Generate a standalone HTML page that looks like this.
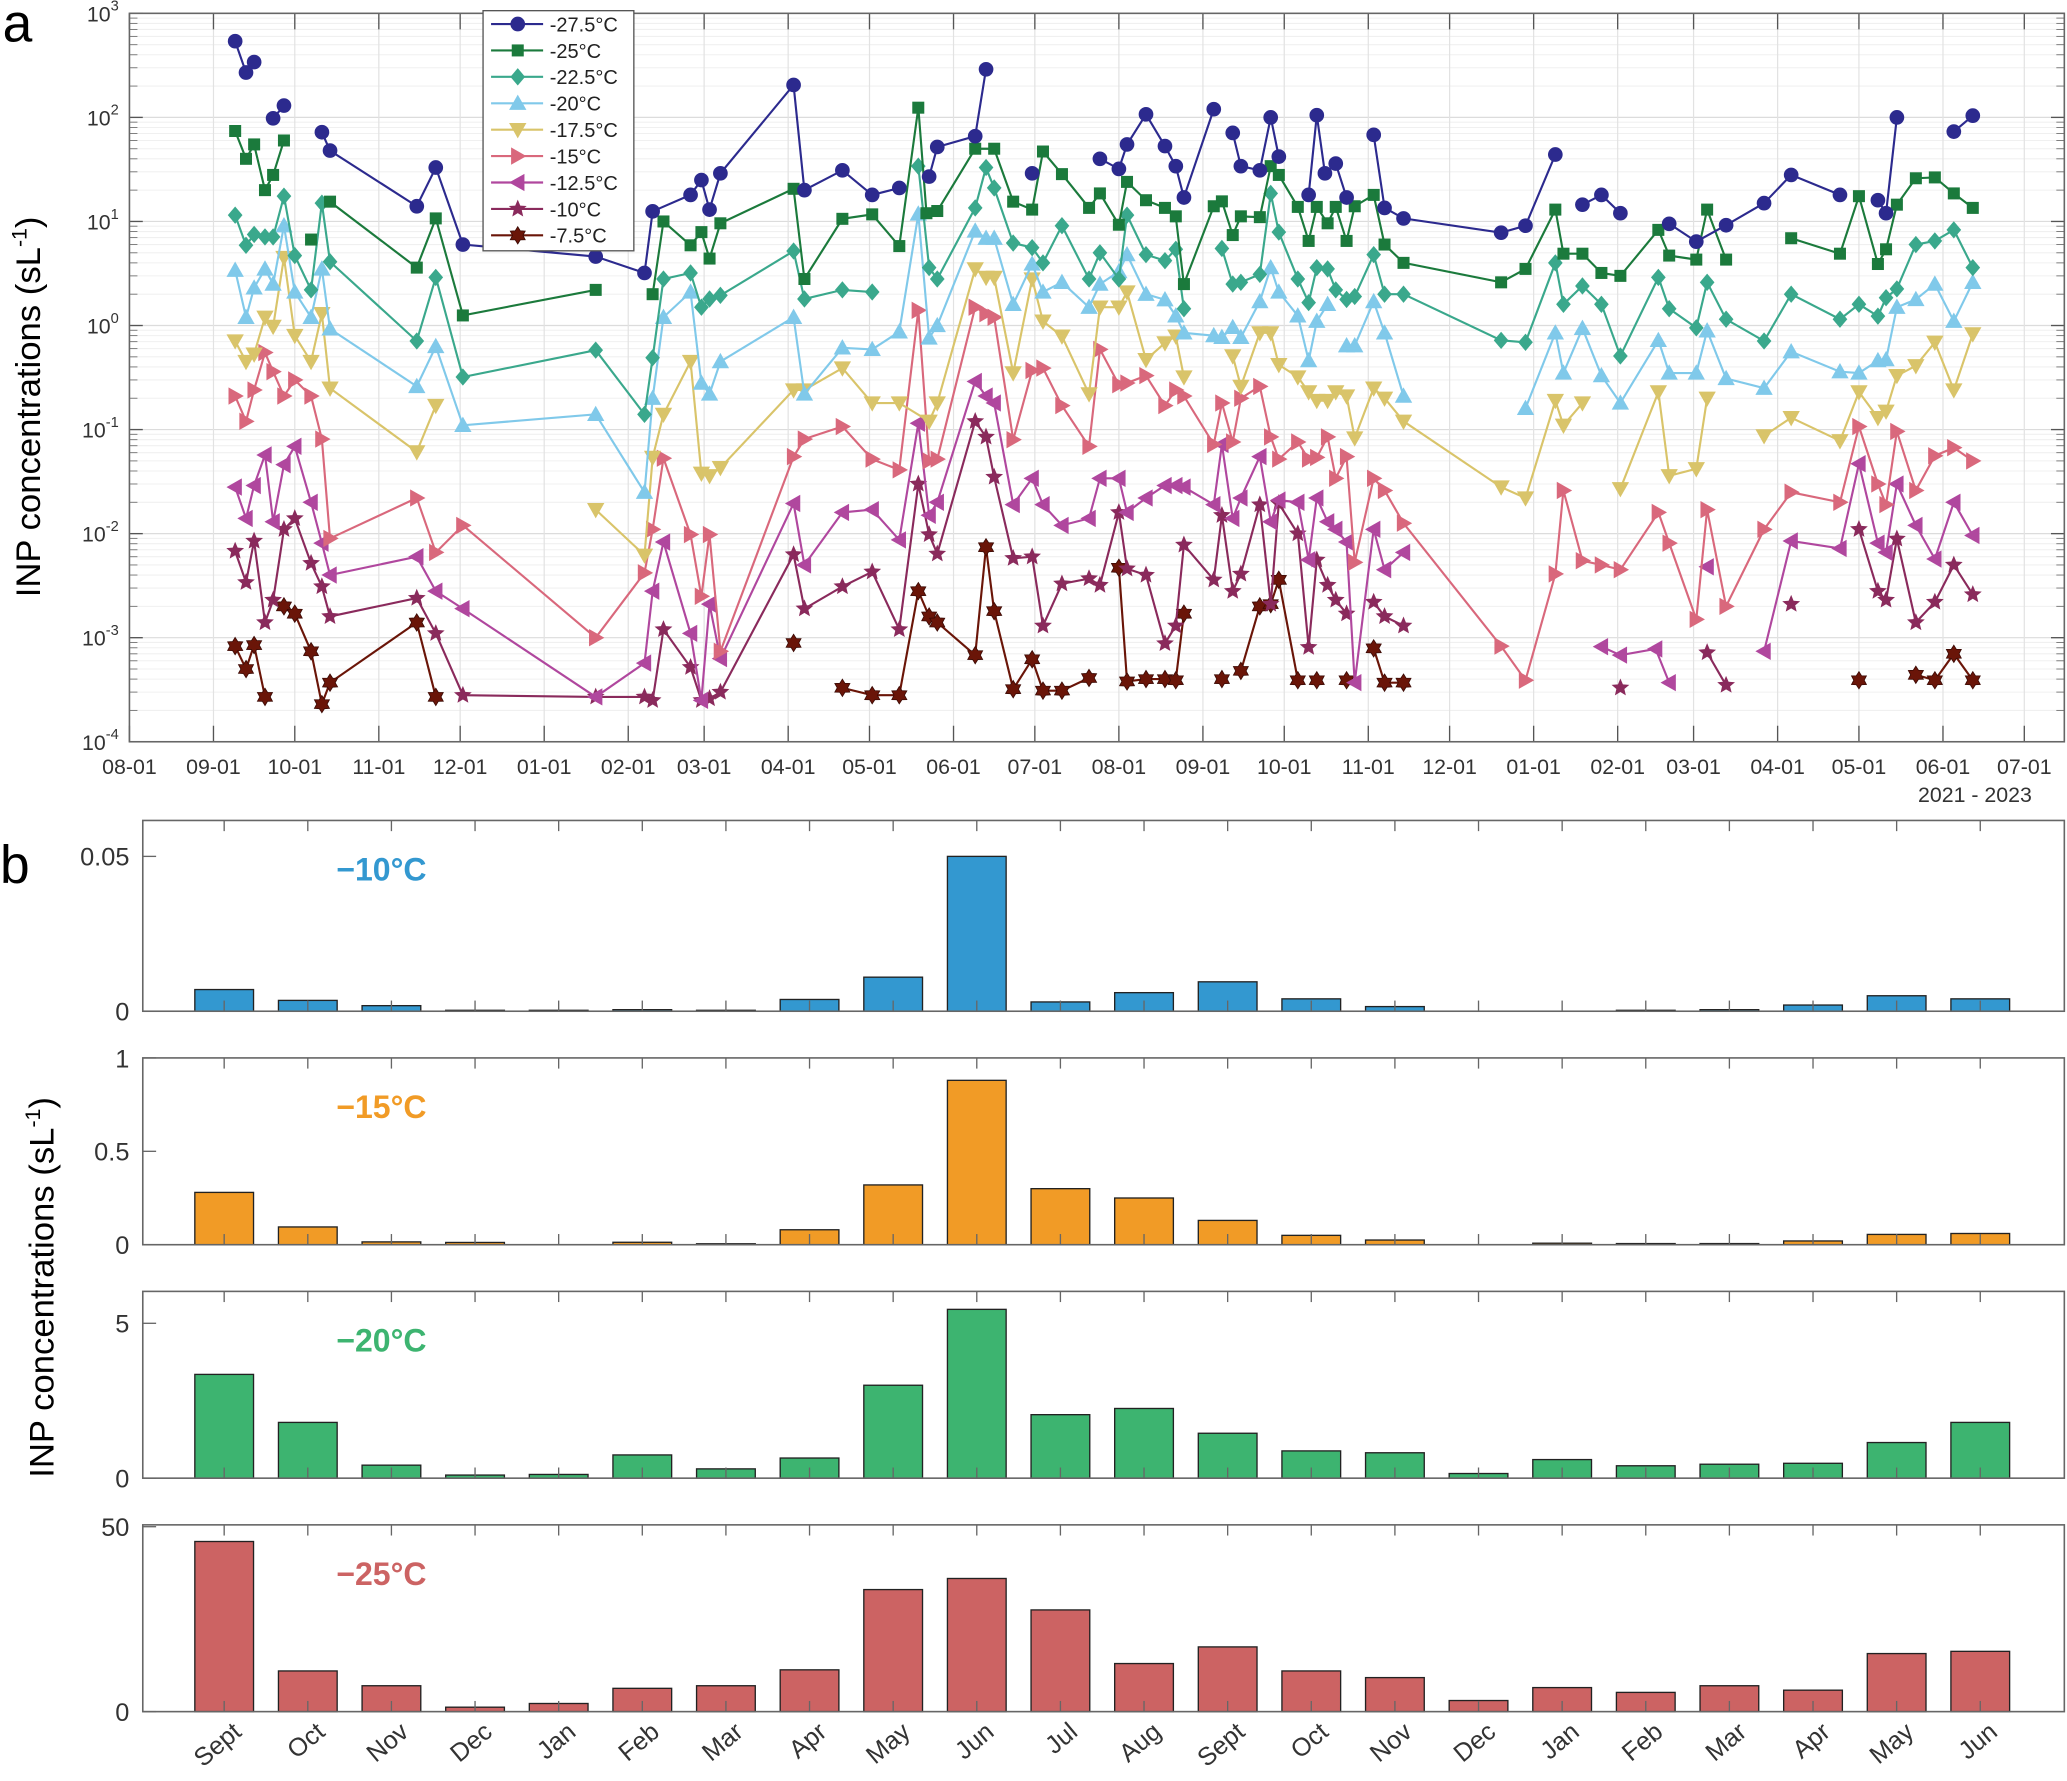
<!DOCTYPE html>
<html><head><meta charset="utf-8">
<style>
html,body{margin:0;padding:0;background:#fff;}
svg{display:block;font-family:"Liberation Sans",Arial,sans-serif;}
</style></head>
<body>
<svg id="fig" xmlns="http://www.w3.org/2000/svg" width="2067" height="1781" viewBox="0 0 1549 1335" preserveAspectRatio="none">
<rect x="0" y="0" width="1549" height="1335" fill="#fff"/>
<text x="2" y="31" font-size="40" fill="#000">a</text>
<text x="0" y="662" font-size="40" fill="#000">b</text>
<g id="pa"></g>
<g id="pb"></g>
</svg>
<script>
// ===== Panel a data: [day since 2021-08-01, INP concentration sL-1]; null = gap =====
const xTickLabels = ["08-01","09-01","10-01","11-01","12-01","01-01","02-01","03-01","04-01","05-01","06-01","07-01","08-01","09-01","10-01","11-01","12-01","01-01","02-01","03-01","04-01","05-01","06-01","07-01"];
const xTickDays = [0,31,61,92,122,153,184,212,243,273,304,334,365,396,426,457,487,518,549,577,608,638,669,699];
const yTickExps = [3,2,1,0,-1,-2,-3,-4];
const seriesNames = ["-27.5°C","-25°C","-22.5°C","-20°C","-17.5°C","-15°C","-12.5°C","-10°C","-7.5°C"];
const s275 = [[39,540],[43,270],[46,340],null,[53,98],[57,130],null,[71,72],[74,48],[106,14],[113,33],[123,6.0],[172,4.6],[190,3.2],[193,12.5],[207,18],[211,25],[214,13],[218,29],[245,205],[249,20],[263,31],[274,18],[284,21],null,[295,27],[298,52],[312,66],[316,290],null,[333,29],null,[358,40],[365,32],[368,55],[375,107],[382,53],[386,34],[389,17],[400,120],null,[407,71],[410,34],[417,31],[421,100],[424,42],null,[435,18],[438,105],[441,29],[445,36],[449,17],null,[459,68],[463,13.5],[470,10.7],[506,7.8],[515,9.1],[526,44],null,[536,14.5],[543,18],[550,12],null,[568,9.5],[578,6.4],[589,9.2],[603,15],[613,28],[631,18],null,[645,16],[648,12],[652,100],null,[673,73],[680,104]];
const s250 = [[39,74],[43,40],[46,55],[50,20],[53,28],[57,60],null,[67,6.7],null,[74,15.5],[106,3.6],[113,10.7],[123,1.25],[172,2.2],null,[193,2.0],[197,10],[207,5.9],[211,7.9],[214,4.4],[218,9.6],[245,20.6],[249,2.8],[263,10.6],[274,11.7],[284,5.8],[291,124],[294,12],[298,12.6],[312,50],[319,50],[326,15.5],[333,13],[337,47],[344,28.5],[354,13.5],[358,18.6],[365,9.3],[368,24],[375,16],[382,13.5],[386,11.2],[389,2.5],[400,14],[403,15.6],[407,7.4],[410,11.2],[417,11],[421,34],[424,28],[431,13.8],[435,6.5],[438,13.8],[442,9.6],[445,13.8],[449,6.5],[452,14],[459,18],[463,6.0],[470,4.0],[506,2.6],[515,3.5],[526,13],[529,4.9],[536,4.9],[543,3.2],[550,3.0],[564,8.3],[568,4.7],[578,4.3],[582,13],[589,4.3],null,[613,6.9],[631,4.9],[638,17.5],[645,3.9],[648,5.4],[652,14.5],[659,26],[666,26.5],[673,18.6],[680,13.5]];
const s225 = [[39,11.5],[43,5.9],[46,7.5],[50,7.1],[53,7.1],[57,17.5],[61,4.7],[67,2.2],[71,15],[74,4.1],[106,0.71],[113,2.9],[123,0.32],[172,0.58],[190,0.14],[193,0.49],[197,2.8],[207,3.2],[211,1.5],[214,1.8],[218,1.95],[245,5.2],[249,1.8],[263,2.2],[274,2.1],null,[291,34],[295,3.6],[298,2.8],[312,13.5],[316,33],[319,21],[326,6.2],[333,5.6],[337,4.0],[344,9.1],[354,2.8],[358,5.0],[365,2.8],[368,11.5],[375,4.8],[382,4.2],[386,5.4],[389,1.45],null,[403,5.5],[407,2.5],[410,2.6],[417,3.1],[421,18.6],[424,7.9],[431,2.8],[435,1.66],[438,3.6],[442,3.5],[445,2.2],[449,1.78],[452,1.9],[459,4.8],[463,2.0],[470,2.0],[506,0.72],[515,0.69],[526,4.0],[529,1.6],[536,2.4],[543,1.6],[550,0.51],[564,2.9],[568,1.45],[578,0.95],[582,2.6],[589,1.15],[603,0.71],[613,2.0],[631,1.15],[638,1.6],[645,1.23],[648,1.85],[652,2.25],[659,6.0],[666,6.5],[673,8.3],[680,3.6]];
const s200 = [[39,3.4],[43,1.2],[46,2.3],[50,3.5],[53,2.5],[57,9.1],[61,2.1],[67,1.2],[71,3.5],[74,0.93],[106,0.26],[113,0.63],[123,0.11],[172,0.14],[190,0.025],[193,0.2],[197,1.2],[207,2.1],[211,0.28],[214,0.22],[218,0.45],[245,1.2],[249,0.22],[263,0.61],[274,0.59],[284,0.87],[291,11.8],[295,0.76],[298,1.0],[312,8.1],[316,6.9],[319,6.9],[326,1.6],[333,3.9],[337,2.1],[344,2.6],[354,1.5],[358,2.5],[365,3.3],[368,4.8],[375,2.0],[382,1.77],[386,1.24],[389,0.85],[400,0.8],[403,0.77],[407,0.96],[410,0.77],[417,1.7],[421,3.6],[424,2.1],[431,1.24],[435,0.46],[438,1.1],[442,1.6],null,[449,0.64],[452,0.64],[459,1.7],[463,0.85],[470,0.21],null,[515,0.16],[526,0.85],[529,0.35],[536,0.94],[543,0.33],[550,0.18],[564,0.72],[568,0.35],[578,0.35],[582,0.89],[589,0.31],[603,0.25],[613,0.56],[631,0.36],[638,0.35],[645,0.46],[648,0.47],[652,1.5],[659,1.78],[666,2.5],[673,1.1],[680,2.6]];
const s175 = [[39,0.71],[43,0.45],[46,0.53],[50,1.2],[53,0.98],[57,4.5],[61,0.8],[67,0.45],[71,1.3],[74,0.25],[106,0.061],[113,0.17],null,[172,0.017],[190,0.0062],[193,0.054],[197,0.14],[207,0.45],[211,0.038],[214,0.036],[218,0.043],[245,0.24],[249,0.24],[263,0.39],[274,0.18],[284,0.18],[295,0.12],[298,0.18],[312,3.5],[316,2.9],[319,2.9],[326,0.35],[333,2.8],[337,1.1],[344,0.79],[354,0.22],[358,1.5],[365,1.5],[368,2.1],[375,0.47],[382,0.68],[386,0.79],[389,0.32],null,[407,0.51],[410,0.26],[417,0.85],[421,0.85],[424,0.42],[431,0.32],[435,0.23],[438,0.19],[442,0.19],[445,0.23],[449,0.21],[452,0.083],[459,0.25],[463,0.2],[470,0.12],[506,0.028],[515,0.022],[526,0.19],[529,0.11],[536,0.18],null,[550,0.027],[564,0.23],[568,0.036],[578,0.042],[582,0.2],null,[603,0.087],[613,0.13],[631,0.078],[638,0.23],[645,0.13],[648,0.15],[652,0.33],[659,0.41],[666,0.69],[673,0.24],[680,0.83]];
const s150 = [[39,0.21],[43,0.12],[46,0.24],[50,0.55],[53,0.36],[57,0.21],[61,0.30],[67,0.21],[71,0.081],[74,0.009],[106,0.022],[113,0.0066],[123,0.012],[172,0.001],[190,0.0042],[193,0.011],[197,0.053],[207,0.0098],[211,0.0025],[214,0.0098],[218,0.00074],[245,0.055],[249,0.081],[263,0.107],[274,0.052],[284,0.041],[291,1.4],[295,0.05],[298,0.052],[312,1.5],[316,1.3],[319,1.2],[326,0.08],[333,0.37],[337,0.39],[344,0.17],[354,0.069],[358,0.59],[365,0.27],[368,0.28],[375,0.33],[382,0.17],[386,0.24],[389,0.21],[400,0.072],[403,0.18],[407,0.076],[410,0.2],[417,0.26],[421,0.085],[424,0.052],[431,0.076],[435,0.052],[438,0.054],[442,0.085],[445,0.034],[449,0.055],[452,0.0053],[459,0.034],[463,0.026],[470,0.0126],[506,0.00083],[515,0.00039],[526,0.0041],[529,0.026],[536,0.0055],[543,0.005],[550,0.0045],[564,0.016],[568,0.0081],[578,0.0015],[582,0.017],[589,0.002],[603,0.011],[613,0.025],[631,0.02],[638,0.107],[645,0.03],[648,0.019],[652,0.096],[659,0.026],[666,0.056],[673,0.067],[680,0.05]];
const s125 = [[39,0.028],[43,0.014],[46,0.029],[50,0.057],[53,0.013],[57,0.046],[61,0.069],[67,0.02],[71,0.0081],[74,0.004],[106,0.006],[113,0.0028],[123,0.0019],[172,0.00027],[190,0.00057],[193,0.0028],[197,0.0083],[207,0.0011],[211,0.00025],[214,0.0021],[218,0.00063],[245,0.0195],[249,0.005],[263,0.016],[274,0.017],[284,0.0087],[291,0.115],[295,0.015],[298,0.02],[312,0.29],[316,0.21],[319,0.18],[326,0.019],[333,0.034],[337,0.019],[344,0.012],[354,0.014],[358,0.034],[365,0.034],[368,0.016],[375,0.022],[382,0.029],[386,0.029],[389,0.028],[400,0.019],[403,0.072],[407,0.014],[410,0.022],[417,0.055],[421,0.013],[424,0.021],[431,0.02],[435,0.0056],[438,0.022],[442,0.013],[445,0.011],[449,0.0083],[452,0.00037],[459,0.011],[463,0.0045],[470,0.0066],null,[543,0.00082],[550,0.00068],[563,0.00078],[568,0.00037],null,[582,0.0048],null,[603,0.00074],[613,0.0085],[631,0.0072],[638,0.047],[645,0.0081],[648,0.0066],[652,0.03],[659,0.012],[666,0.0057],[673,0.02],[680,0.0096]];
const s100 = [[39,0.0068],[43,0.0034],[46,0.0085],[50,0.0014],[53,0.0023],[57,0.011],[61,0.014],[67,0.0052],[71,0.0031],[74,0.0016],[106,0.0024],[113,0.0011],[123,0.00028],[172,0.00027],[190,0.00027],[193,0.00025],[197,0.0012],[207,0.00052],[211,0.00025],[214,0.00026],[218,0.0003],[245,0.0063],[249,0.0019],[263,0.0031],[274,0.0043],[284,0.0012],[291,0.03],[295,0.0098],[298,0.0064],[312,0.12],[316,0.085],[319,0.035],[326,0.0058],[333,0.006],[337,0.0013],[344,0.0033],[354,0.0037],[358,0.0032],[365,0.016],[368,0.0046],[375,0.004],[382,0.00088],[386,0.0013],[389,0.0078],[400,0.0036],[403,0.015],[407,0.0028],[410,0.0041],[417,0.019],[421,0.0021],[424,0.0195],[431,0.01],[435,0.00081],[438,0.0056],[442,0.0032],[445,0.0023],[449,0.0017],null,[459,0.0022],[463,0.0016],[470,0.0013],null,[550,0.00033],null,[582,0.00072],[589,0.00035],null,[613,0.0021],null,[638,0.011],[645,0.0028],[648,0.0023],[652,0.0089],[659,0.0014],[666,0.0022],[673,0.005],[680,0.0026]];
const s075 = [[39,0.00083],[43,0.0005],[46,0.00085],[50,0.00027],null,[57,0.002],[61,0.0017],[67,0.00074],[71,0.00023],[74,0.00037],[106,0.0014],[113,0.00027],null,[245,0.00089],null,[263,0.00033],[274,0.00028],[284,0.00028],[291,0.0028],[295,0.0016],[298,0.0014],[312,0.00068],[316,0.0074],[319,0.0018],[326,0.00032],[333,0.00062],[337,0.00031],[344,0.00031],[354,0.00041],null,[365,0.0047],[368,0.00038],[375,0.0004],[382,0.0004],[386,0.00039],[389,0.0017],null,[403,0.0004],null,[410,0.00048],[417,0.002],[421,0.0021],[424,0.0036],[431,0.00039],null,[438,0.00039],null,[449,0.00039],null,[459,0.00079],[463,0.00037],[470,0.00037],null,[638,0.00039],null,[659,0.00044],[666,0.00039],[673,0.0007],[680,0.00039]];

// ===== Panel b data =====
const months = ["Sept","Oct","Nov","Dec","Jan","Feb","Mar","Apr","May","Jun","Jul","Aug","Sept","Oct","Nov","Dec","Jan","Feb","Mar","Apr","May","Jun"];
const bar10 = [0.007,0.0035,0.0018,0.0003,0.0003,0.0005,0.0003,0.0038,0.011,0.05,0.003,0.006,0.0095,0.004,0.0015,0,0,0.0003,0.0005,0.002,0.005,0.004];
const bar15 = [0.28,0.095,0.015,0.012,0,0.013,0.005,0.08,0.32,0.88,0.3,0.25,0.13,0.05,0.025,0,0.008,0.006,0.006,0.02,0.055,0.06];
const bar20 = [3.35,1.8,0.42,0.1,0.12,0.75,0.3,0.65,3.0,5.45,2.05,2.25,1.45,0.88,0.82,0.15,0.6,0.4,0.45,0.48,1.15,1.8];
const bar25 = [46,11,7,1.2,2.2,6.3,7,11.3,33,36,27.5,13,17.5,11,9.2,3,6.5,5.2,7,5.8,15.7,16.3];
const bar10Ticks = [0,0.05], bar15Ticks=[0,0.5,1], bar20Ticks=[0,5], bar25Ticks=[0,50];

const NS="http://www.w3.org/2000/svg";
function mk(tag,attrs,parent){const e=document.createElementNS(NS,tag);for(const k in attrs)e.setAttribute(k,attrs[k]);if(parent)parent.appendChild(e);return e;}

// ---- Panel a axes ----
const A={l:97,r:1547,t:10,b:556};
const dMax=699, xEnd=1517;
function xa(d){return A.l+d*(xEnd-A.l)/dMax;}
function ya(v){return A.t+(3-Math.log10(v))*(A.b-A.t)/7;}
const pa=document.getElementById('pa');
const grid=mk('g',{},pa);


for(let e=-4;e<3;e++){for(let m=2;m<=9;m++){const y=ya(m*Math.pow(10,e));mk('line',{x1:A.l,x2:A.r,y1:y,y2:y,stroke:'#f0f0f0','stroke-width':0.8},grid);
mk('line',{x1:A.r-6,x2:A.r,y1:y,y2:y,stroke:'#777','stroke-width':0.7},grid);mk('line',{x1:A.l,x2:A.l+6,y1:y,y2:y,stroke:'#777','stroke-width':0.7},grid);}}
yTickExps.forEach(e=>{const y=ya(Math.pow(10,e));mk('line',{x1:A.l,x2:A.r,y1:y,y2:y,stroke:'#dcdcdc','stroke-width':0.9},grid);
 mk('line',{x1:A.l,x2:A.l+10,y1:y,y2:y,stroke:'#555'},grid);mk('line',{x1:A.r-10,x2:A.r,y1:y,y2:y,stroke:'#555'},grid);
 const t=mk('text',{x:A.l-8,y:y+6,'text-anchor':'end','font-size':16,fill:'#333'},pa);
 
 
 t.textContent='10';const ts=mk('tspan',{dy:-8,'font-size':11},t);ts.textContent=String(e);});
xTickDays.forEach((d,i)=>{const x=xa(d);mk('line',{x1:x,x2:x,y1:A.t,y2:A.b,stroke:'#e2e2e2','stroke-width':0.9},grid);
 mk('line',{x1:x,x2:x,y1:A.b,y2:A.b-12,stroke:'#555'},grid);mk('line',{x1:x,x2:x,y1:A.t,y2:A.t+12,stroke:'#555'},grid);
 const t=mk('text',{x:x,y:A.b+24,'text-anchor':'middle','font-size':16,fill:'#333'},pa);
 
 
 t.textContent=xTickLabels[i];});
const yr=mk('text',{x:1480,y:601,'text-anchor':'middle','font-size':16,fill:'#333'},pa);


yr.textContent='2021 - 2023';
const box=mk('rect',{x:A.l,y:A.t,width:A.r-A.l,height:A.b-A.t,fill:'none',stroke:'#666','stroke-width':1.2},pa);


const yl=mk('text',{transform:'translate(30,305) rotate(-90)','text-anchor':'middle','font-size':26,fill:'#000'},pa);


yl.textContent='INP concentrations (sL';const ysup=mk('tspan',{dy:-10,'font-size':16},yl);ysup.textContent='-1';const yend=mk('tspan',{dy:10},yl);yend.textContent=')';

// markers
function star(cx,cy,r,n){let p=[];for(let i=0;i<2*n;i++){const a=-Math.PI/2+i*Math.PI/n;const rr=i%2?r*0.45:r;p.push((cx+rr*Math.cos(a)).toFixed(1)+','+(cy+rr*Math.sin(a)).toFixed(1));}return p.join(' ');}
function hexa(cx,cy,r){let p=[];for(let i=0;i<12;i++){const a=-Math.PI/2+i*Math.PI/6;const rr=i%2?r*0.6:r;p.push((cx+rr*Math.cos(a)).toFixed(1)+','+(cy+rr*Math.sin(a)).toFixed(1));}return p.join(' ');}
function marker(g,type,x,y,col){
 let e;
 if(type==='o')e=mk('circle',{cx:x,cy:y,r:5.5,fill:col},g);
 else if(type==='s')e=mk('rect',{x:x-4.5,y:y-4.5,width:9,height:9,fill:col},g);
 else if(type==='d')e=mk('polygon',{points:`${x},${y-6.5} ${x+5.5},${y} ${x},${y+6.5} ${x-5.5},${y}`,fill:col},g);
 else if(type==='^')e=mk('polygon',{points:`${x},${y-6.5} ${x+6.5},${y+5} ${x-6.5},${y+5}`,fill:col},g);
 else if(type==='v')e=mk('polygon',{points:`${x},${y+6.5} ${x+6.5},${y-5} ${x-6.5},${y-5}`,fill:col},g);
 else if(type==='>')e=mk('polygon',{points:`${x+6.5},${y} ${x-5},${y-6.5} ${x-5},${y+6.5}`,fill:col},g);
 else if(type==='<')e=mk('polygon',{points:`${x-6.5},${y} ${x+5},${y-6.5} ${x+5},${y+6.5}`,fill:col},g);
 else if(type==='*')e=mk('polygon',{points:star(x,y,7,5),fill:col},g);
 else e=mk('polygon',{points:hexa(x,y,6.5),fill:col,stroke:'#3a0a05','stroke-width':0.6},g);
 return e;}
const allSeries=[s275,s250,s225,s200,s175,s150,s125,s100,s075];
const colors=['#2c2a8e','#1b7a3c','#3aa88c','#80c9ea','#d9c46a','#d9687c','#b0479e','#8a2a5c','#6a1508'];
const mtypes=['o','s','d','^','v','>','<','*','h'];
const sKeys=['s275','s250','s225','s200','s175','s150','s125','s100','s075'];
for(let si=allSeries.length-1;si>=0;si--){
 const g=mk('g',{},pa);
 
 
 let segs=[],cur=[];
 allSeries[si].forEach(p=>{if(p===null){if(cur.length)segs.push(cur);cur=[];}else cur.push(p);});
 if(cur.length)segs.push(cur);
 segs.forEach(s=>{if(s.length>1){const pl=mk('polyline',{points:s.map(p=>xa(p[0]).toFixed(1)+','+ya(p[1]).toFixed(1)).join(' '),fill:'none',stroke:colors[si],'stroke-width':1.6},g);
  
  }});
 allSeries[si].forEach(p=>{if(p){const m=marker(g,mtypes[si],xa(p[0]),ya(p[1]),colors[si]);
  
  }});
}
// legend
const lg=mk('g',{},pa);


mk('rect',{x:362,y:8,width:113,height:180,fill:'#fff',stroke:'#555','stroke-width':1},lg);
seriesNames.forEach((n,i)=>{const y=18+i*19.8;
 const le=mk('g',{},lg);
 
 
 mk('line',{x1:368,x2:407,y1:y,y2:y,stroke:colors[i],'stroke-width':1.6},le);
 marker(le,mtypes[i],388,y,colors[i]);
 const t=mk('text',{x:412,y:y+5.5,'font-size':15,fill:'#222'},le);t.textContent=n;});

// ---- Panel b ----
const pb=document.getElementById('pb');
const B={l:107,r:1547};
function xb(i){return 168+i*(1484-168)/21;}
const panels=[
 {t:615,b:758,max:0.0616,vals:bar10,ticks:bar10Ticks,col:'#3398d0',label:'\u221210°C',key:'minus10'},
 {t:793,b:933,max:1.0,vals:bar15,ticks:bar15Ticks,col:'#f19b26',label:'\u221215°C',key:'minus15'},
 {t:968,b:1108,max:6.03,vals:bar20,ticks:bar20Ticks,col:'#3db470',label:'\u221220°C',key:'minus20'},
 {t:1143,b:1283,max:50.5,vals:bar25,ticks:bar25Ticks,col:'#cc6363',label:'\u221225°C',key:'minus25'}];
panels.forEach(P=>{
 const g=mk('g',{},pb);
 
 
 const yb=v=>P.b-v*(P.b-P.t)/P.max;
 P.vals.forEach((v,i)=>{const x=xb(i);const y=yb(v);
  const r=mk('rect',{x:x-22,y:y,width:44,height:Math.max(P.b-y,0),fill:P.col,stroke:'#222','stroke-width':1},g);
  
  });
 for(let i=0;i<22;i++){const x=xb(i);mk('line',{x1:x,x2:x,y1:P.t,y2:P.t+8,stroke:'#666'},g);mk('line',{x1:x,x2:x,y1:P.b,y2:P.b-8,stroke:'#666'},g);}
 P.ticks.forEach(tv=>{const y=yb(tv);mk('line',{x1:B.l,x2:B.l+10,y1:y,y2:y,stroke:'#666'},g);
  const t=mk('text',{x:B.l-10,y:y+7,'text-anchor':'end','font-size':19,fill:'#333'},g);
  
  
  t.textContent=String(tv);});
 mk('rect',{x:B.l,y:P.t,width:B.r-B.l,height:P.b-P.t,fill:'none',stroke:'#666','stroke-width':1.2},g);
 const lab=mk('text',{x:252,y:P.t+45,'font-size':24,'font-weight':'bold',fill:P.col},g);
 
 
 lab.textContent=P.label;
});
months.forEach((m,i)=>{const x=xb(i)+14;const t=mk('text',{'text-anchor':'end','font-size':19,fill:'#333',transform:`translate(${x},${1300}) rotate(-40)`},pb);
 
 
 t.textContent=m;});
const yl2=mk('text',{transform:'translate(40,965) rotate(-90)','text-anchor':'middle','font-size':26,fill:'#000'},pb);


yl2.textContent='INP concentrations (sL';const y2s=mk('tspan',{dy:-10,'font-size':16},yl2);y2s.textContent='-1';const y2e=mk('tspan',{dy:10},yl2);y2e.textContent=')';
</script>
</body></html>
